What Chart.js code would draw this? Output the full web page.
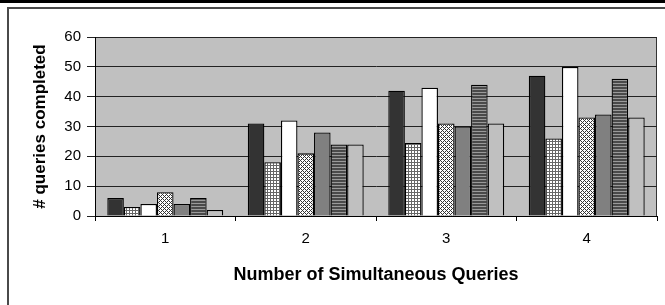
<!DOCTYPE html>
<html>
<head>
<meta charset="utf-8">
<script src="https://cdn.jsdelivr.net/npm/chart.js@4"></script>
<style>
  html, body { margin: 0; padding: 0; background: #fff; }
  #page { position: relative; width: 665px; height: 305px; overflow: hidden; }
  #topRule { position: absolute; left: 0; top: 0; width: 665px; height: 3px; background: #000; }
  #frame { position: absolute; left: 7px; top: 7px; width: 700px; height: 340px;
           border-left: 2px solid #4a4a4a; border-top: 2px solid #4a4a4a; }
  #chart { position: absolute; left: 0; top: 0; }
</style>
</head>
<body>
<div id="page">
  <div id="topRule"></div>
  <div id="frame"></div>
  <canvas id="chart" width="665" height="305"></canvas>
</div>
<script>
// categorias e valores
const categories = ['1', '2', '3', '4'];
const series1 = [6, 31, 42, 47];
const series2 = [3, 18, 24.5, 26];
const series3 = [4, 32, 43, 50];
const series4 = [8, 21, 31, 33];
const series5 = [4, 28, 30, 34];
const series6 = [6, 24, 44, 46];
const series7 = [2, 24, 31, 33];
const yTicks = [0, 10, 20, 30, 40, 50, 60];

// padrões de preenchimento (estilo Excel)
function makePattern(w, h, draw) {
    const c = document.createElement('canvas');
    c.width = w; c.height = h;
    const g = c.getContext('2d');
    draw(g);
    return document.getElementById('chart').getContext('2d').createPattern(c, 'repeat');
}

const gridPattern = makePattern(3, 3, g => {
    g.fillStyle = '#fff'; g.fillRect(0, 0, 3, 3);
    g.fillStyle = '#666'; g.fillRect(0, 0, 3, 1); g.fillRect(0, 0, 1, 3);
});

// hachura diagonal cruzada fina
const diagPattern = makePattern(4, 4, g => {
    g.fillStyle = '#fff'; g.fillRect(0, 0, 4, 4);
    g.fillStyle = '#333';
    for (let x = 0; x < 4; x++) {
        for (let y = 0; y < 4; y++) {
            if ((x + y) % 4 === 0 || (x - y + 4) % 4 === 0) g.fillRect(x, y, 1, 1);
        }
    }
});

const stripePattern = makePattern(1, 3, g => {
    g.fillStyle = '#4a4a4a'; g.fillRect(0, 0, 1, 3);
    g.fillStyle = '#9a9a9a'; g.fillRect(0, 2, 1, 1);
});

const seriesData = [series1, series2, series3, series4, series5, series6, series7];
const seriesFill = ['#333333', gridPattern, '#ffffff', diagPattern, '#808080', stripePattern, '#c0c0c0'];

// fundo cinza da área de plotagem
const plotArea = {
    id: 'plotArea',
    beforeDraw(chart) {
        const { ctx, chartArea: a } = chart;
        ctx.save();
        ctx.fillStyle = '#c0c0c0';
        ctx.fillRect(a.left, a.top, a.right - a.left, a.bottom - a.top);
        ctx.strokeStyle = '#333';
        ctx.lineWidth = 1;
        ctx.strokeRect(a.left + 0.5, a.top + 0.5, a.right - a.left - 1, a.bottom - a.top);
        ctx.restore();
    }
};

Chart.defaults.font.family = "'Liberation Sans', Arial, sans-serif";
Chart.defaults.color = '#000';

new Chart(document.getElementById('chart'), {
    type: 'bar',
    data: {
        labels: categories,
        datasets: seriesData.map((vals, i) => ({
            label: 'Series ' + (i + 1),
            data: vals,
            backgroundColor: seriesFill[i],
            borderColor: '#000',
            borderWidth: 1.3,
            barPercentage: 1,
            categoryPercentage: 0.825
        }))
    },
    options: {
        responsive: false,
        animation: false,
        layout: { padding: { left: 0, right: 8, top: 37, bottom: 0 } },
        plugins: { legend: { display: false }, tooltip: { enabled: false } },
        scales: {
            x: {
                grid: { offset: true, drawOnChartArea: false, color: '#000', tickLength: 5 },
                border: { color: '#000' },
                ticks: { font: { size: 15 }, color: '#000', padding: 9 },
                title: {
                    display: true,
                    text: 'Number of Simultaneous Queries',
                    font: { size: 18, weight: 'bold' },
                    color: '#000',
                    padding: { top: 0, bottom: 19 }
                },
                afterFit(scale) { scale.height = 89; }
            },
            y: {
                min: 0,
                max: 60,
                afterBuildTicks(scale) { scale.ticks = yTicks.map(v => ({ value: v })); },
                grid: { color: '#222', tickLength: 8 },
                border: { color: '#000' },
                ticks: { font: { size: 15 }, color: '#000', padding: 6 },
                title: {
                    display: true,
                    text: '# queries completed',
                    font: { size: 17, weight: 'bold' },
                    color: '#000',
                    padding: { top: 30, bottom: 0 }
                },
                afterFit(scale) { scale.width = 95; }
            }
        }
    },
    plugins: [plotArea]
});
</script>
</body>
</html>
